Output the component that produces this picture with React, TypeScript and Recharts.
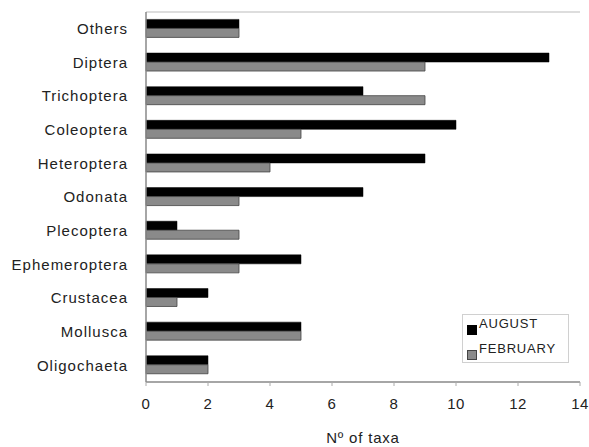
import React from 'react';
import { BarChart, Bar, XAxis, YAxis } from 'recharts';

const categories = ['Others', 'Diptera', 'Trichoptera', 'Coleoptera', 'Heteroptera', 'Odonata', 'Plecoptera', 'Ephemeroptera', 'Crustacea', 'Mollusca', 'Oligochaeta'];
const august = [3, 13, 7, 10, 9, 7, 1, 5, 2, 5, 2];
const february = [3, 9, 9, 5, 4, 3, 3, 3, 1, 5, 2];
const xTicks = [0, 2, 4, 6, 8, 10, 12, 14];
const seriesNames = ['AUGUST', 'FEBRUARY'];
const seriesColors = ['#000', '#8a8a8a'];

const data = categories.map((c, i) => ({ name: c, AUGUST: august[i], FEBRUARY: february[i] }));

const FONT = '"Liberation Sans", Arial, sans-serif';

const LegendBox = () => (
  <div style={{ position: 'absolute', left: 462, top: 314, border: '1px solid #d0d0d0', width: 107, height: 49, boxSizing: 'border-box', fontFamily: FONT, fontSize: 13, letterSpacing: 0.8, color: '#222', background: '#fff' }}>
    {seriesNames.map((n, i) => (
      <React.Fragment key={n}>
        <span style={{ position: 'absolute', left: 4, top: 10 + i * 25, width: 8, height: 8, background: seriesColors[i], border: i === 0 ? '1px solid #000' : '1px solid #444' }} />
        <span style={{ position: 'absolute', left: 16, top: 1 + i * 25, lineHeight: '15px', whiteSpace: 'nowrap' }}>{n}</span>
      </React.Fragment>
    ))}
  </div>
);

export default function App() {
  return (
    <div style={{ position: 'absolute', left: 0, top: 0, width: 589, height: 447, background: '#fff' }}>
      <BarChart
        width={589}
        height={447}
        data={data}
        layout="vertical"
        margin={{ top: 11, right: 9, bottom: 0, left: 0 }}
        barCategoryGap="22%"
        barGap={0}
      >
        <XAxis
          xAxisId="b"
          type="number"
          domain={[0, 14]}
          ticks={xTicks}
          interval={0}
          height={65}
          tickSize={4}
          tickMargin={12}
          axisLine={{ stroke: '#888', strokeWidth: 1.5 }}
          tickLine={{ stroke: '#aaa' }}
          tick={{ fill: '#222', fontFamily: FONT, fontSize: 15, letterSpacing: 0.5 }}
          label={{ value: 'Nº of taxa', position: 'insideBottom', offset: 4, fill: '#222', fontFamily: FONT, fontSize: 15, letterSpacing: 0.8 }}
        />
        <XAxis
          xAxisId="t"
          orientation="top"
          type="number"
          domain={[0, 14]}
          height={1}
          tick={false}
          tickLine={false}
          axisLine={{ stroke: '#bbb' }}
        />
        <YAxis
          yAxisId="l"
          type="category"
          dataKey="name"
          width={146}
          interval={0}
          tickLine={false}
          tickMargin={12}
          axisLine={{ stroke: '#888', strokeWidth: 1.5 }}
          tick={{ fill: '#222', fontFamily: FONT, fontSize: 15, letterSpacing: 1 }}
        />
        <YAxis
          yAxisId="r"
          orientation="right"
          type="category"
          dataKey="name"
          width={0}
          tick={false}
          tickLine={false}
          axisLine={{ stroke: '#bbb' }}
        />
        <Bar xAxisId="b" yAxisId="l" dataKey="AUGUST" fill="#000" stroke="#000" strokeWidth={0.5} isAnimationActive={false} />
        <Bar xAxisId="b" yAxisId="l" dataKey="FEBRUARY" fill="#8a8a8a" stroke="#444" strokeWidth={0.8} isAnimationActive={false} />
      </BarChart>
      <LegendBox />
    </div>
  );
}
